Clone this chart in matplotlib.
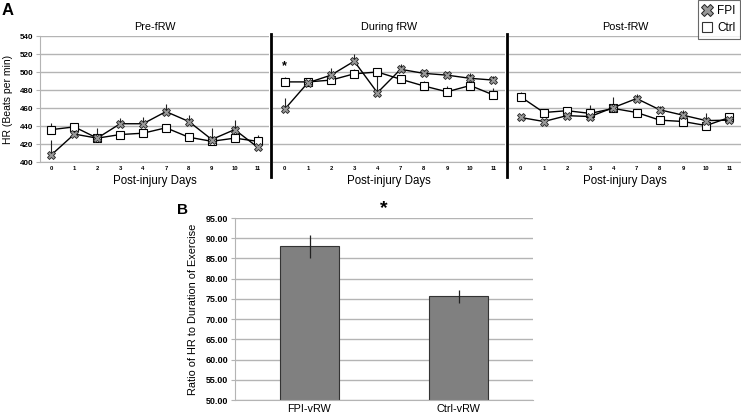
import numpy as np
import matplotlib
matplotlib.use("Agg")
import matplotlib.pyplot as plt
from matplotlib.lines import Line2D

plt.rcParams['font.family'] = ['Liberation Sans', 'DejaVu Sans']

# ---- data ----
days = ['0', '1', '2', '3', '4', '7', '8', '9', '10', '11']
phases = ['Pre-fRW', 'During fRW', 'Post-fRW']

fpi_pre = [408, 431, 426.5, 442.5, 442.5, 456, 445, 425, 436, 416.5]
fpi_pre_err = [16, 3, 11, 6, 7.5, 8.5, 7, 12.5, 10.5, 3]
ctrl_pre = [436, 439, 426.5, 430.5, 432, 438, 427.5, 423, 426.5, 423]
ctrl_pre_err = [7.5, 3, 3, 3, 3, 3, 3, 3, 3, 7.5]

fpi_dur = [458.5, 488, 496.5, 512, 477, 503, 498.5, 496.5, 493, 491]
fpi_dur_err = [13, 3, 8.5, 8.5, 23, 5.5, 4, 3, 6, 4.5]
ctrl_dur = [489, 489, 491, 498, 500, 492, 484.5, 478, 485, 474.5]
ctrl_dur_err = [6, 3, 3, 5, 5, 3, 5.5, 6, 5, 8]

fpi_post = [449.5, 445, 451.5, 450.5, 460.5, 470.5, 458, 452, 446, 446.5]
fpi_post_err = [3, 3, 3, 3, 12, 5.5, 4.5, 6, 8, 3]
ctrl_post = [472.5, 455, 457, 454, 459.5, 455, 446.5, 445, 440.5, 449.5]
ctrl_post_err = [5, 3, 3, 9, 3, 3, 3, 3, 3, 3]

bar_labels = ['FPI-vRW', 'Ctrl-vRW']
bar_vals = [88.0, 75.6]
bar_err = [2.9, 1.7]

W, H = 741, 415
fig = plt.figure(figsize=(W / 100, H / 100), dpi=100)


def frac(x0, y0, x1, y1):
    return [x0 / W, 1 - y1 / H, (x1 - x0) / W, (y1 - y0) / H]


grid_c = '#b4b4b4'
fpi_sets = [(fpi_pre, fpi_pre_err), (fpi_dur, fpi_dur_err), (fpi_post, fpi_post_err)]
ctrl_sets = [(ctrl_pre, ctrl_pre_err), (ctrl_dur, ctrl_dur_err), (ctrl_post, ctrl_post_err)]
boxes = [(40, 36, 269, 162), (273, 36, 505, 162), (509, 36, 741, 162)]

x = np.arange(len(days))
axes_a = []
for i, box in enumerate(boxes):
    ax = fig.add_axes(frac(*box))
    axes_a.append(ax)
    ax.set_ylim(400, 540)
    ax.set_xlim(-0.5, len(days) - 0.5)
    ax.set_yticks(np.arange(400, 541, 20))
    ax.yaxis.grid(True, color=grid_c, lw=1.0)
    ax.set_axisbelow(True)
    for s in ['top', 'right']:
        ax.spines[s].set_visible(False)
    ax.spines['bottom'].set_color(grid_c)
    ax.spines['left'].set_color(grid_c)
    if i > 0:
        ax.spines['left'].set_visible(False)
        ax.tick_params(axis='y', left=False, labelleft=False)
    else:
        ax.tick_params(axis='y', length=3, color=grid_c, labelsize=5.8, pad=1.5)
        for t in ax.get_yticklabels():
            t.set_fontweight('bold')
        ax.set_ylabel('HR (Beats per min)', fontsize=7.5, labelpad=5)
    ax.set_xticks(x)
    ax.set_xticklabels(days, fontsize=4.2, fontweight='bold')
    ax.tick_params(axis='x', length=0, pad=3)
    ax.set_xlabel('Post-injury Days', fontsize=8.3, labelpad=3)
    ax.set_title(phases[i], fontsize=7.8, pad=4)

    c, ce = ctrl_sets[i]
    f, fe = fpi_sets[i]
    ax.errorbar(x, c, yerr=[np.zeros(len(ce)), ce], fmt='none', ecolor='#222', elinewidth=0.8, capsize=0, zorder=3)
    ax.errorbar(x, f, yerr=[np.zeros(len(fe)), fe], fmt='none', ecolor='#222', elinewidth=0.8, capsize=0, zorder=3)
    ax.plot(x, c, color='black', lw=1.0, marker='s', ms=5.5, mfc='white', mec='black', mew=0.8, zorder=4)
    ax.plot(x, f, color='black', lw=1.0, marker='X', ms=5.5, mfc='#999999', mec='#222', mew=0.6, zorder=5)

# significance mark during fRW
axes_a[1].text(0, 500, '*', ha='center', va='bottom', fontsize=9, fontweight='bold')

# thick separators between phases
for xs in [271, 507]:
    fig.add_artist(Line2D([xs / W, xs / W], [1 - 34 / H, 1 - 177 / H], color='black', lw=2.0))

# legend
handles = [Line2D([], [], ls='none', marker='X', ms=8, mfc='#999999', mec='#222', mew=0.7, label='FPI'),
           Line2D([], [], ls='none', marker='s', ms=6.5, mfc='white', mec='#333', mew=0.8, label='Ctrl')]
leg = fig.legend(handles=handles, loc='upper right', bbox_to_anchor=(0.999, 0.999), fontsize=8.5,
                 frameon=True, fancybox=False, handlelength=0.7, handletextpad=0.5, borderpad=0.4,
                 labelspacing=0.45, borderaxespad=0)
leg.get_frame().set_edgecolor('#444')
leg.get_frame().set_linewidth(0.8)

# ---- panel B ----
axb = fig.add_axes(frac(235, 218, 533, 400))
axb.set_ylim(50, 95)
axb.set_xlim(-0.5, 1.5)
axb.set_yticks(np.arange(50, 96, 5))
axb.set_yticklabels(['%.2f' % v for v in np.arange(50, 96, 5)], fontsize=6.5, fontweight='bold')
axb.yaxis.grid(True, color=grid_c, lw=1.0)
axb.set_axisbelow(True)
for s in ['top', 'right']:
    axb.spines[s].set_visible(False)
axb.spines['bottom'].set_color(grid_c)
axb.spines['left'].set_color(grid_c)
axb.tick_params(axis='y', length=3, color=grid_c, pad=2)
axb.bar(np.arange(len(bar_vals)), bar_vals, width=0.4, color='#808080', edgecolor='#333', lw=0.8,
        yerr=bar_err, error_kw=dict(ecolor='#222', elinewidth=0.9, capsize=0))
axb.set_xticks(np.arange(len(bar_labels)))
axb.set_xticklabels(bar_labels, fontsize=7.8)
axb.tick_params(axis='x', length=0, pad=3)
axb.set_ylabel('Ratio of HR to Duration of Exercise', fontsize=7.9, labelpad=5)
axb.text(0.5, 95.3, '*', ha='center', va='bottom', fontsize=14, fontweight='bold')

fig.text(2 / W, 1 - 3 / H, 'A', fontsize=12, fontweight='bold', ha='left', va='top')
fig.text(177 / W, 1 - 203 / H, 'B', fontsize=11, fontweight='bold', ha='left', va='top')

fig.savefig('out.png', dpi=100)
